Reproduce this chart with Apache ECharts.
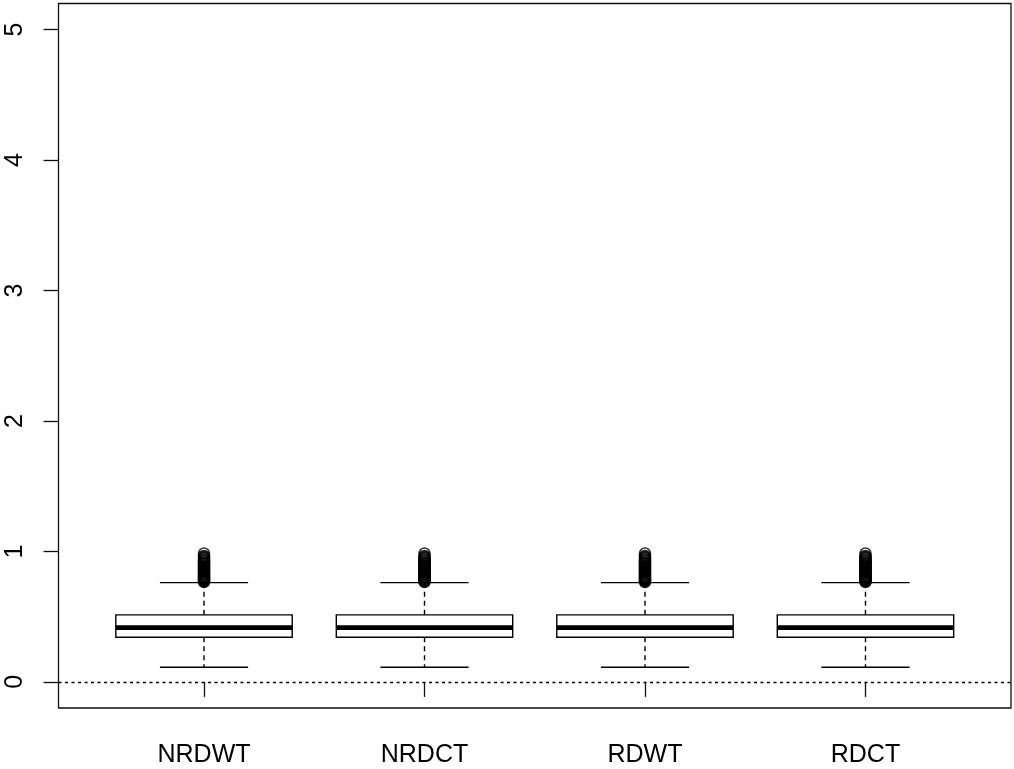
<!DOCTYPE html>
<html>
<head>
<meta charset="utf-8">
<script src="https://cdn.jsdelivr.net/npm/echarts@6/dist/echarts.min.js"></script>
<style>html,body{margin:0;padding:0;background:#fff;}#chart{width:1014px;height:769px;}</style>
</head>
<body>
<div id="chart"></div>
<script>
// ---- data ----
const categories = ['NRDWT', 'NRDCT', 'RDWT', 'RDCT'];
const whiskerLow  = [0.112, 0.112, 0.112, 0.112];
const q1          = [0.342, 0.342, 0.342, 0.342];
const median      = [0.416, 0.416, 0.416, 0.416];
const q3          = [0.514, 0.514, 0.514, 0.514];
const whiskerHigh = [0.761, 0.761, 0.761, 0.761];
// outliers above the upper whisker (dense column, same for each group)
const outliersNRDWT = [0.766, 0.771, 0.776, 0.781, 0.786, 0.791, 0.796, 0.802, 0.807, 0.812, 0.818, 0.823, 0.829, 0.834, 0.840, 0.846, 0.851, 0.857, 0.863, 0.869, 0.875, 0.881, 0.887, 0.893, 0.899, 0.905, 0.912, 0.918, 0.925, 0.931, 0.938, 0.945, 0.952, 0.959, 0.965, 0.984];
const outliersNRDCT = [0.766, 0.771, 0.776, 0.781, 0.786, 0.791, 0.796, 0.802, 0.807, 0.812, 0.818, 0.823, 0.829, 0.834, 0.840, 0.846, 0.851, 0.857, 0.863, 0.869, 0.875, 0.881, 0.887, 0.893, 0.899, 0.905, 0.912, 0.918, 0.925, 0.931, 0.938, 0.945, 0.952, 0.959, 0.965, 0.984];
const outliersRDWT  = [0.766, 0.771, 0.776, 0.781, 0.786, 0.791, 0.796, 0.802, 0.807, 0.812, 0.818, 0.823, 0.829, 0.834, 0.840, 0.846, 0.851, 0.857, 0.863, 0.869, 0.875, 0.881, 0.887, 0.893, 0.899, 0.905, 0.912, 0.918, 0.925, 0.931, 0.938, 0.945, 0.952, 0.959, 0.965, 0.984];
const outliersRDCT  = [0.766, 0.771, 0.776, 0.781, 0.786, 0.791, 0.796, 0.802, 0.807, 0.812, 0.818, 0.823, 0.829, 0.834, 0.840, 0.846, 0.851, 0.857, 0.863, 0.869, 0.875, 0.881, 0.887, 0.893, 0.899, 0.905, 0.912, 0.918, 0.925, 0.931, 0.938, 0.945, 0.952, 0.959, 0.965, 0.984];
const outlierLists = [outliersNRDWT, outliersNRDCT, outliersRDWT, outliersRDCT];
const yTicks = [0, 1, 2, 3, 4, 5];
const xTicks = [1, 2, 3, 4];

// ---- build ----
const boxData = categories.map((c, i) => [i + 1, whiskerLow[i], q1[i], median[i], q3[i], whiskerHigh[i]]);
const outlierData = [];
outlierLists.forEach((list, i) => list.forEach(v => outlierData.push([i + 1, v])));

const FONT = 'Liberation Sans, Arial, sans-serif';
const BOX_HALF = 0.4, CAP_HALF = 0.2;

function renderBox(params, api) {
  const x = api.value(0);
  const lo = api.value(1), a = api.value(2), m = api.value(3), b = api.value(4), hi = api.value(5);
  const pL = api.coord([x - BOX_HALF, b]);
  const pR = api.coord([x + BOX_HALF, a]);
  const cL = x - CAP_HALF, cR = x + CAP_HALF;
  const solid = { stroke: '#000', lineWidth: 1.4, fill: null };
  const dashed = { stroke: '#000', lineWidth: 1.4, lineDash: [5, 4] };
  const line = (p1, p2, style) => ({ type: 'line', shape: { x1: p1[0], y1: p1[1], x2: p2[0], y2: p2[1] }, style: style });
  return {
    type: 'group',
    children: [
      line(api.coord([x, a]), api.coord([x, lo]), dashed),
      line(api.coord([x, b]), api.coord([x, hi]), dashed),
      line(api.coord([cL, lo]), api.coord([cR, lo]), solid),
      line(api.coord([cL, hi]), api.coord([cR, hi]), solid),
      { type: 'rect', shape: { x: pL[0], y: pL[1], width: pR[0] - pL[0], height: pR[1] - pL[1] }, style: { stroke: '#000', lineWidth: 1.4, fill: '#fff' } },
      line(api.coord([x - BOX_HALF, m]), api.coord([x + BOX_HALF, m]), { stroke: '#000', lineWidth: 4.6 })
    ]
  };
}

const chart = echarts.init(document.getElementById('chart'), null, { renderer: 'canvas' });
chart.setOption({
  backgroundColor: '#fff',
  animation: false,
  grid: { left: 58.5, right: 3, top: 3.5, bottom: 61, show: true, borderColor: '#111', borderWidth: 1.3, backgroundColor: 'transparent', containLabel: false },
  xAxis: {
    type: 'value', min: 0.34, max: 4.66,
    axisLine: { show: false },
    splitLine: { show: false },
    axisTick: { show: true, length: 15, lineStyle: { color: '#111', width: 1.3 }, customValues: xTicks },
    axisLabel: { customValues: xTicks, margin: 35, fontSize: 25, fontFamily: FONT, color: '#000', formatter: v => categories[Math.round(v) - 1] || '' }
  },
  yAxis: {
    type: 'value', min: -0.2, max: 5.2,
    axisLine: { show: false },
    splitLine: { show: false },
    axisTick: { show: true, length: 15, lineStyle: { color: '#111', width: 1.3 }, customValues: yTicks },
    axisLabel: { customValues: yTicks, rotate: 90, margin: 31, fontSize: 25, fontFamily: FONT, color: '#000' }
  },
  series: [
    {
      type: 'custom', renderItem: renderBox, data: boxData, z: 2,
      encode: { x: 0, y: [1, 2, 3, 4, 5] },
      markLine: {
        silent: true, symbol: ['none', 'none'], label: { show: false },
        lineStyle: { color: '#000', width: 1.3, type: [3, 3.5] },
        data: [{ yAxis: 0 }]
      }
    },
    {
      type: 'scatter', data: outlierData, z: 3,
      symbol: 'circle', symbolSize: 11,
      itemStyle: { color: 'rgba(255,255,255,0)', borderColor: '#000', borderWidth: 1.5 }
    }
  ]
});
</script>
</body>
</html>
